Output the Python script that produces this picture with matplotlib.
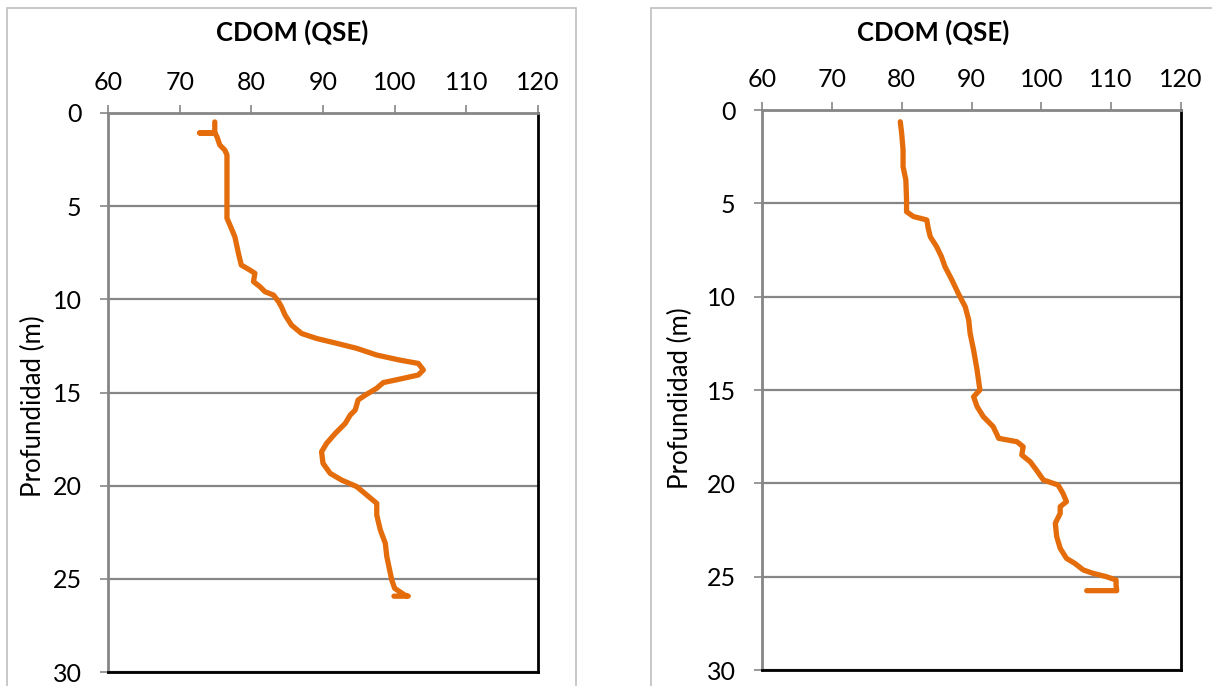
import matplotlib
matplotlib.use("Agg")
import matplotlib.pyplot as plt
from matplotlib.patches import Rectangle

plt.rcParams["font.family"] = ["Lato", "DejaVu Sans"]

# profile 1 (left): CDOM (QSE) vs depth (m)
cdom_1 = [74.9, 74.9, 72.8, 74.9, 75.2, 75.6, 76.3, 76.6, 76.6, 76.6, 76.6,
          77.0, 77.7, 78.2, 78.6, 79.8, 80.5, 80.3, 81.2, 81.9, 83.1, 83.8,
          84.2, 84.7, 85.6, 87.0, 89.1, 91.9, 94.7, 97.5, 100.7, 103.3, 104.0,
          103.3, 101.2, 98.4, 97.5, 95.9, 94.9, 94.5, 93.8, 93.1, 91.7, 90.5,
          89.8, 90.0, 91.0, 92.6, 94.7, 96.1, 97.5, 97.5, 98.0, 98.7, 98.9,
          99.3, 99.6, 100.0, 101.4, 101.9, 99.9]
depth_1 = [0.48, 1.07, 1.07, 1.07, 1.27, 1.72, 1.99, 2.25, 3.5, 4.67, 5.65,
           6.0, 6.64, 7.53, 8.16, 8.43, 8.6, 9.05, 9.32, 9.59, 9.77, 10.13,
           10.4, 10.84, 11.38, 11.83, 12.1, 12.36, 12.63, 12.99, 13.26, 13.44, 13.79,
           14.06, 14.24, 14.47, 14.77, 15.14, 15.4, 15.94, 16.21, 16.66, 17.2, 17.73,
           18.18, 18.8, 19.34, 19.7, 20.05, 20.5, 20.95, 21.58, 22.38, 23.1, 23.8,
           24.53, 25.07, 25.51, 25.87, 25.93, 25.93]

# profile 2 (right)
cdom_2 = [79.8, 80.0, 80.2, 80.2, 80.6, 80.7, 80.7, 81.7, 83.6, 83.8, 84.1,
          85.0, 85.7, 86.2, 87.2, 88.1, 89.1, 89.6, 89.8, 90.3, 90.8, 91.2,
          90.3, 90.8, 91.7, 93.1, 93.9, 96.5, 97.4, 97.2, 98.4, 99.3, 100.3,
          102.4, 103.1, 103.6, 102.7, 102.7, 102.0, 102.2, 102.7, 103.6, 104.8,
          106.0, 107.4, 109.3, 110.7, 110.7, 110.8, 106.5]
depth_2 = [0.63, 1.25, 2.14, 3.04, 3.75, 4.82, 5.45, 5.71, 5.89, 6.34, 6.79,
           7.32, 7.86, 8.39, 9.11, 9.82, 10.54, 11.25, 11.96, 12.86, 13.93, 15.0,
           15.36, 15.89, 16.43, 16.96, 17.59, 17.77, 18.04, 18.48, 18.84, 19.29, 19.82,
           20.09, 20.54, 20.98, 21.25, 21.61, 22.14, 22.86, 23.48, 24.02, 24.29,
           24.64, 24.82, 25.0, 25.18, 25.45, 25.75, 25.75]

x_ticks = [60, 70, 80, 90, 100, 110, 120]
y_ticks = [0, 5, 10, 15, 20, 25, 30]
title = "CDOM (QSE)"
ylabel = "Profundidad (m)"

W, H = 1212, 686
fig = plt.figure(figsize=(W / 100, H / 100), dpi=100)

orange = "#E46C0A"
gray = "#868686"


def panel(rect_px, border_px, x, y, title_x, ylab_x, ylab_y):
    l, t, r, b = rect_px
    ax = fig.add_axes([l / W, 1 - b / H, (r - l) / W, (b - t) / H])
    # outer chart border
    bl, bt, br = border_px
    fig.patches.append(Rectangle((bl / W, -0.05), (br - bl) / W, 1.05 - bt / H,
                                 transform=fig.transFigure, fill=False,
                                 ec="#BFBFBF", lw=1.2))
    ax.plot(x, y, color=orange, lw=3.8, solid_capstyle="round",
            solid_joinstyle="round")
    ax.set_xlim(60, 120)
    ax.set_ylim(30, 0)
    ax.set_xticks(x_ticks)
    ax.set_yticks(y_ticks)
    ax.xaxis.tick_top()
    ax.tick_params(axis="x", direction="out", length=6, width=1.2, color=gray,
                   pad=8, labelsize=18)
    ax.tick_params(axis="y", direction="out", length=6, width=1.2, color=gray,
                   pad=13, labelsize=18)
    ax.grid(axis="y", color=gray, lw=1.6)
    ax.set_axisbelow(True)
    ax.spines["top"].set_color(gray)
    ax.spines["left"].set_color(gray)
    ax.spines["top"].set_linewidth(2)
    ax.spines["left"].set_linewidth(2)
    ax.spines["right"].set_color("black")
    ax.spines["bottom"].set_color("black")
    ax.spines["right"].set_linewidth(2)
    ax.spines["bottom"].set_linewidth(2)
    fig.text(title_x / W, 1 - 32 / H, title, ha="center", va="center",
             fontsize=18.5, fontweight="bold")
    fig.text(ylab_x / W, 1 - ylab_y / H, ylabel, ha="center", va="center",
             rotation=90, fontsize=18.5)
    return ax


panel((108, 113, 538, 672), (7, 8, 576), cdom_1, depth_1, 292, 33, 406)
panel((762, 110, 1181, 670), (651, 8, 1230), cdom_2, depth_2, 933, 680, 398)

fig.savefig("out.png", dpi=100)
